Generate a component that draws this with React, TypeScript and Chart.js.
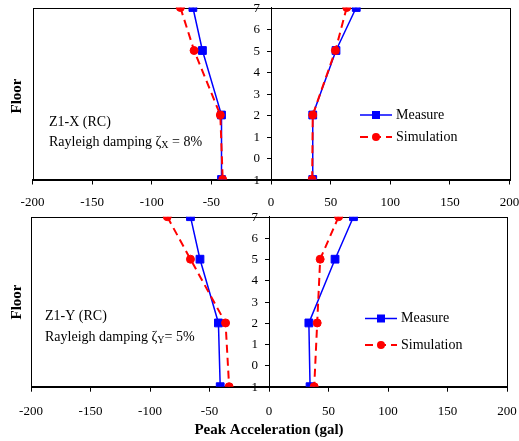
import React, { useEffect, useRef } from "react";
import { Chart, registerables } from "chart.js";

Chart.register(...registerables);

// ---------- data ----------
const floors = [7, 5, 2, -1];
const xMin = -200;
const xMax = 200;
const xStep = 50;
const yMin = -1;
const yMax = 7;

// Panel 1: Z1-X (RC)
const xMeasureNeg = [-65.5, -57.5, -41.5, -41.5];
const xMeasurePos = [71.5, 54.5, 35, 35];
const xSimNeg = [-76, -64.5, -42.5, -40.5];
const xSimPos = [63.5, 54, 35, 34.5];

// Panel 2: Z1-Y (RC)
const yMeasureNeg = [-66, -58, -42.5, -41];
const yMeasurePos = [71, 55.5, 33.5, 34.5];
const ySimNeg = [-85.5, -66, -36.5, -33.5];
const ySimPos = [58.5, 43, 40.5, 38];

const seriesNames = ["Measure", "Simulation"];
const yTitle = "Floor";
const xTitle = "Peak Acceleration (gal)";

const FONT = "'Liberation Serif', 'Times New Roman', serif";
const BLUE = "#0000FF";
const RED = "#FF0000";

type PanelSpec = {
  measureNeg: number[];
  measurePos: number[];
  simNeg: number[];
  simPos: number[];
  height: number;
  pad: { left: number; right: number; top: number; bottom: number };
  axisH: number;
  tickPad: number;
  label1: string;
  label2a: string;
  label2sub: string;
  label2b: string;
  labelX: number;
  labelY1: number;
  labelY2: number;
  legX1: number;
  legY1: number;
  legY2: number;
  floorY: number;
  showXTitle: boolean;
  xTitleY: number;
};

const pts = (xs: number[]) => xs.map((x, i) => ({ x, y: floors[i] }));

function measureDs(xs: number[]) {
  return {
    label: seriesNames[0],
    data: pts(xs),
    showLine: true,
    borderColor: BLUE,
    backgroundColor: BLUE,
    borderWidth: 1.5,
    pointStyle: "rect",
    pointRadius: 5.5,
    pointBorderWidth: 1,
    pointBorderColor: BLUE,
    pointBackgroundColor: BLUE,
    order: 1,
  };
}
function simDs(xs: number[]) {
  return {
    label: seriesNames[1],
    data: pts(xs),
    showLine: true,
    borderColor: RED,
    backgroundColor: RED,
    borderWidth: 2,
    borderDash: [8, 5],
    pointStyle: "circle",
    pointRadius: 4,
    pointBorderWidth: 1,
    pointBorderColor: RED,
    pointBackgroundColor: RED,
    order: 0,
  };
}

function makeConfig(p: PanelSpec): any {
  const overlay = {
    id: "overlay",
    beforeDraw(chart: any) {
      const { ctx, chartArea: a } = chart;
      ctx.save();
      ctx.strokeStyle = "#000";
      ctx.lineWidth = 1;
      ctx.strokeRect(Math.round(a.left) + 0.5, Math.round(a.top) + 0.5, Math.round(a.right - a.left), Math.round(a.bottom - a.top));
      ctx.restore();
    },
    afterDraw(chart: any) {
      const { ctx, chartArea: a } = chart;
      ctx.save();
      ctx.fillStyle = "#000";
      // y axis ticks and labels at x = 0 (left side of the axis)
      const ys = chart.scales.y;
      const x0 = Math.round(chart.scales.x.getPixelForValue(0));
      ctx.strokeStyle = "#000";
      ctx.lineWidth = 1;
      ctx.font = `13px ${FONT}`;
      ctx.textAlign = "right";
      ctx.textBaseline = "middle";
      ys.ticks.forEach((t: any) => {
        const py = Math.round(ys.getPixelForValue(t.value)) + 0.5;
        ctx.beginPath();
        ctx.moveTo(x0 - 4, py);
        ctx.lineTo(x0, py);
        ctx.stroke();
        ctx.fillText(String(t.value), x0 - 11, py);
      });
      // y title
      ctx.save();
      ctx.translate(17.5, p.floorY);
      ctx.rotate(-Math.PI / 2);
      ctx.font = `bold 15px ${FONT}`;
      ctx.textAlign = "center";
      ctx.textBaseline = "middle";
      ctx.fillText(yTitle, 0, 0);
      ctx.restore();
      // x title
      if (p.showXTitle) {
        ctx.font = `bold 15px ${FONT}`;
        ctx.textAlign = "center";
        ctx.textBaseline = "middle";
        ctx.fillText(xTitle, (a.left + a.right) / 2, p.xTitleY);
      }
      // annotation
      ctx.font = `14px ${FONT}`;
      ctx.textAlign = "left";
      ctx.textBaseline = "middle";
      ctx.fillText(p.label1, p.labelX, p.labelY1);
      let x = p.labelX;
      ctx.fillText(p.label2a, x, p.labelY2);
      x += ctx.measureText(p.label2a).width;
      ctx.font = `10px ${FONT}`;
      ctx.fillText(p.label2sub, x, p.labelY2 + 3);
      x += ctx.measureText(p.label2sub).width;
      ctx.font = `14px ${FONT}`;
      ctx.fillText(p.label2b, x, p.labelY2);
      // legend
      const x1 = p.legX1;
      const x2 = x1 + 32;
      const xc = (x1 + x2) / 2;
      ctx.strokeStyle = BLUE;
      ctx.lineWidth = 1.5;
      ctx.beginPath();
      ctx.moveTo(x1, p.legY1);
      ctx.lineTo(x2, p.legY1);
      ctx.stroke();
      ctx.fillStyle = BLUE;
      ctx.fillRect(xc - 4, p.legY1 - 4, 8, 8);
      ctx.strokeStyle = RED;
      ctx.fillStyle = RED;
      ctx.lineWidth = 2;
      ctx.setLineDash([8, 5]);
      ctx.beginPath();
      ctx.moveTo(x1, p.legY2);
      ctx.lineTo(x2, p.legY2);
      ctx.stroke();
      ctx.setLineDash([]);
      ctx.beginPath();
      ctx.arc(xc, p.legY2, 4, 0, Math.PI * 2);
      ctx.fill();
      ctx.fillStyle = "#000";
      ctx.font = `14px ${FONT}`;
      ctx.fillText(seriesNames[0], x2 + 4, p.legY1);
      ctx.fillText(seriesNames[1], x2 + 4, p.legY2);
      ctx.restore();
    },
  };

  return {
    type: "scatter",
    data: {
      datasets: [measureDs(p.measureNeg), measureDs(p.measurePos), simDs(p.simNeg), simDs(p.simPos)],
    },
    options: {
      animation: false,
      responsive: false,
      events: [],
      layout: { padding: p.pad },
      plugins: { legend: { display: false }, tooltip: { enabled: false }, title: { display: false } },
      scales: {
        x: {
          type: "linear",
          position: "bottom",
          min: xMin,
          max: xMax,
          afterFit(s: any) {
            s.height = p.axisH;
            s.paddingLeft = 0;
            s.paddingRight = 0;
          },
          afterBuildTicks(s: any) {
            const t = [];
            for (let v = xMin; v <= xMax; v += xStep) t.push({ value: v });
            s.ticks = t;
          },
          border: { display: true, color: "#000", width: 1 },
          grid: { display: true, drawOnChartArea: false, drawTicks: true, tickLength: 5, color: "#000" },
          ticks: { font: { family: FONT, size: 13 }, color: "#000", padding: p.tickPad, maxRotation: 0, autoSkip: false },
        },
        y: {
          type: "linear",
          position: { x: 0 },
          min: yMin,
          max: yMax,
          afterFit(s: any) {
            s.paddingTop = 0;
            s.paddingBottom = 0;
          },
          border: { display: true, color: "#000", width: 1 },
          grid: { display: false, drawOnChartArea: false, drawTicks: false },
          ticks: { stepSize: 1, display: false, autoSkip: false },
        },
      },
    },
    plugins: [overlay],
  };
}

const panels: PanelSpec[] = [
  {
    measureNeg: xMeasureNeg,
    measurePos: xMeasurePos,
    simNeg: xSimNeg,
    simPos: xSimPos,
    height: 212,
    pad: { left: 32.5, right: 9.5, top: 7.5, bottom: 0 },
    axisH: 212 - 179.5,
    tickPad: 10,
    label1: "Z1-X (RC)",
    label2a: "Rayleigh damping ζ",
    label2sub: "X",
    label2b: " = 8%",
    labelX: 49,
    labelY1: 122,
    labelY2: 142,
    legX1: 360,
    legY1: 115,
    legY2: 137,
    floorY: 96,
    showXTitle: false,
    xTitleY: 0,
  },
  {
    measureNeg: yMeasureNeg,
    measurePos: yMeasurePos,
    simNeg: ySimNeg,
    simPos: ySimPos,
    height: 231,
    pad: { left: 31, right: 12, top: 6.7, bottom: 0 },
    axisH: 231 - 176.7,
    tickPad: 12,
    label1: "Z1-Y (RC)",
    label2a: "Rayleigh damping ζ",
    label2sub: "Y",
    label2b: "= 5%",
    labelX: 45,
    labelY1: 106,
    labelY2: 127,
    legX1: 365,
    legY1: 108.5,
    legY2: 135,
    floorY: 92,
    showXTitle: true,
    xTitleY: 220,
  },
];

function Panel({ spec, top }: { spec: PanelSpec; top: number }) {
  const ref = useRef<HTMLCanvasElement | null>(null);
  useEffect(() => {
    if (!ref.current) return;
    const chart = new Chart(ref.current, makeConfig(spec));
    return () => chart.destroy();
  }, [spec]);
  return (
    <canvas
      ref={ref}
      width={519}
      height={spec.height}
      style={{ position: "absolute", left: 0, top, width: 519, height: spec.height }}
    />
  );
}

export default function App() {
  return (
    <div style={{ position: "fixed", left: 0, top: 0, width: 519, height: 441, background: "#fff" }}>
      <Panel spec={panels[0]} top={0} />
      <Panel spec={panels[1]} top={210} />
    </div>
  );
}
